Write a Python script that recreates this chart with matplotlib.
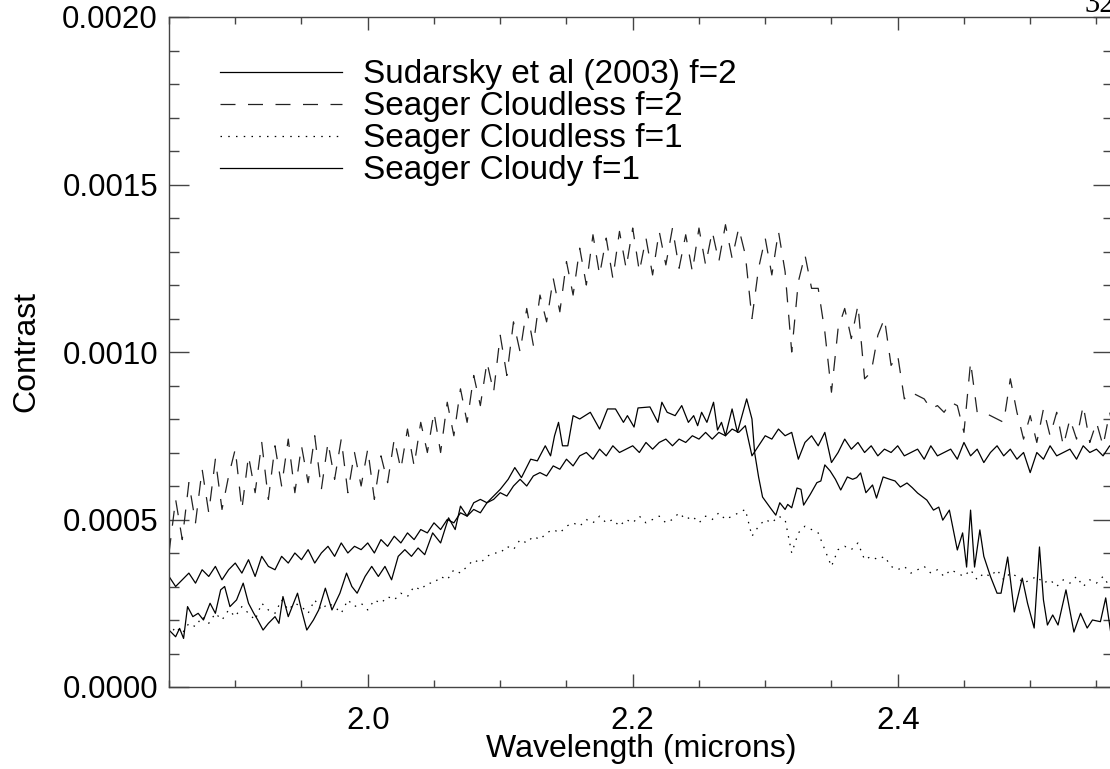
import numpy as np
import matplotlib
matplotlib.use('Agg')
import matplotlib.pyplot as plt
from matplotlib.ticker import MultipleLocator, FormatStrFormatter

plt.rcParams['font.family'] = ['Liberation Sans', 'DejaVu Sans']

# Seager models sampled on a regular wavelength grid (microns)
wave_start = 1.850
wave_step = 0.005
n_seager = 144

# contrast values in units of 1e-4
cloudy_f1 = [
    3.3, 3.0, 3.2, 3.4, 3.1, 3.5, 3.3, 3.6, 3.2, 3.5,
    3.7, 3.4, 3.8, 3.3, 3.9, 3.6, 3.5, 3.9, 3.7, 4.0,
    3.8, 4.1, 3.7, 4.0, 4.2, 3.9, 4.3, 4.0, 4.2, 4.1,
    4.3, 4.0, 4.4, 4.2, 4.5, 4.3, 4.6, 4.4, 4.7, 4.6,
    4.9, 4.7, 5.0, 4.9, 5.2, 5.1, 5.3, 5.2, 5.5, 5.6,
    5.8, 5.7, 6.0, 6.2, 6.0, 6.3, 6.4, 6.3, 6.6, 6.5,
    6.8, 6.6, 6.9, 7.0, 6.8, 7.1, 6.9, 7.2, 7.0, 7.1,
    7.2, 7.0, 7.3, 7.1, 7.3, 7.4, 7.2, 7.4, 7.3, 7.5,
    7.4, 7.6, 7.4, 7.6, 7.5, 7.7, 7.6, 7.8, 6.9, 7.2,
    7.5, 7.4, 7.7, 7.5, 7.6, 6.8, 7.3, 7.5, 7.2, 7.6,
    6.7, 7.0, 7.4, 7.1, 7.3, 7.0, 7.2, 6.9, 7.1, 7.0,
    7.2, 6.9, 7.0, 7.1, 6.8, 7.2, 6.9, 7.0, 7.1, 6.8,
    7.3, 6.9, 7.1, 6.7, 7.0, 7.2, 6.9, 7.1, 6.8, 7.0,
    6.4, 7.0, 6.8, 7.2, 6.9, 7.0, 7.1, 6.8, 7.2, 7.0,
    7.1, 6.9, 7.2, 7.0]

cloudless_f2 = [
    4.0, 5.6, 4.4, 6.1, 4.9, 6.5, 5.2, 6.8, 5.3, 6.3,
    7.1, 5.3, 6.9, 5.8, 7.3, 5.6, 7.2, 6.0, 7.4, 5.8,
    7.2, 6.1, 7.5, 5.9, 7.3, 6.2, 7.4, 5.8, 7.0, 6.0,
    7.1, 5.6, 6.9, 6.1, 7.4, 6.5, 7.7, 6.6, 7.9, 7.0,
    8.2, 7.0, 8.5, 7.5, 8.9, 7.9, 9.3, 8.4, 9.7, 8.8,
    10.5, 9.3, 10.9, 10.0, 11.3, 10.2, 11.7, 10.9, 12.2, 11.2,
    12.7, 11.7, 13.1, 12.0, 13.5, 12.3, 13.4, 12.2, 13.6, 12.5,
    13.7, 12.4, 13.4, 12.3, 13.6, 12.6, 13.7, 12.5, 13.5, 12.4,
    13.7, 12.6, 13.6, 12.7, 13.8, 12.8, 13.7, 12.9, 11.0, 12.5,
    13.4, 12.3, 13.6, 12.4, 10.0, 12.1, 12.9, 11.9, 11.9, 10.6,
    8.8, 10.7, 11.3, 10.4, 11.4, 9.2, 9.4, 10.5, 11.0, 9.6,
    9.9, 8.6, 8.8, 8.7, 8.6, 8.3, 8.4, 8.2, 8.5, 8.4,
    7.6, 9.7, 8.2, 8.2, 8.1, 8.0, 7.9, 9.2, 8.2, 7.4,
    8.1, 7.3, 8.3, 7.5, 8.2, 7.2, 8.0, 7.4, 8.4, 7.3,
    7.9, 7.2, 8.2, 7.3]

cloudless_f1 = [
    1.5, 1.8, 1.6, 1.9, 1.8, 2.1, 1.9, 2.2, 2.0, 2.3,
    2.1, 2.4, 2.2, 2.0, 2.5, 2.3, 2.2, 2.6, 2.3, 2.5,
    2.4, 2.2, 2.6, 2.3, 2.5, 2.4, 2.2, 2.6, 2.4, 2.5,
    2.3, 2.6, 2.5, 2.7, 2.6, 2.8, 2.7, 3.0, 2.9, 3.1,
    3.1, 3.3, 3.2, 3.5, 3.4, 3.6, 3.8, 3.7, 3.9, 4.0,
    4.0, 4.2, 4.1, 4.4, 4.3, 4.5, 4.4, 4.6, 4.7, 4.6,
    4.8, 4.9, 4.8, 5.0, 4.9, 5.1, 4.9, 5.0, 4.8, 5.0,
    4.9, 5.1, 4.9, 5.0, 5.1, 4.9, 5.0, 5.2, 5.0, 5.1,
    4.9, 5.1, 5.0, 5.2, 5.0, 5.1, 5.2, 5.3, 4.5, 4.8,
    5.0, 4.9, 5.1, 5.0, 4.0, 4.6, 4.8, 4.7, 4.6, 4.1,
    3.6, 4.1, 4.2, 4.1, 4.3, 3.8, 3.9, 3.8, 3.9, 3.6,
    3.5, 3.6, 3.4, 3.5, 3.6, 3.4, 3.5, 3.3, 3.5, 3.4,
    3.3, 3.5, 3.2, 3.4, 3.3, 3.5, 3.2, 3.4, 3.3, 3.1,
    3.2, 3.3, 3.1, 3.2, 3.0, 3.2, 3.1, 3.3, 3.0, 3.2,
    3.1, 3.3, 3.0, 3.2]

# Sudarsky et al (2003) model, coarser and irregular sampling
sud_wave = [
    1.850, 1.855, 1.858, 1.861, 1.864, 1.868, 1.872, 1.876, 1.881, 1.885,
    1.889, 1.892, 1.896, 1.901, 1.906, 1.910, 1.914, 1.917, 1.921, 1.925,
    1.930, 1.933, 1.936, 1.940, 1.944, 1.947, 1.950, 1.954, 1.959, 1.963,
    1.968, 1.973, 1.979, 1.984, 1.988, 1.992, 1.998, 2.003, 2.008, 2.013,
    2.018, 2.023, 2.028, 2.033, 2.038, 2.043, 2.049, 2.055, 2.061, 2.066,
    2.070, 2.075, 2.080, 2.085, 2.090, 2.095, 2.100, 2.106, 2.111, 2.116,
    2.123, 2.128, 2.134, 2.138, 2.141, 2.144, 2.147, 2.151, 2.155, 2.160,
    2.168, 2.175, 2.181, 2.187, 2.193, 2.196, 2.201, 2.204, 2.213, 2.219,
    2.222, 2.226, 2.232, 2.237, 2.242, 2.246, 2.249, 2.252, 2.256, 2.261,
    2.264, 2.267, 2.270, 2.275, 2.279, 2.286, 2.290, 2.292, 2.295, 2.298,
    2.304, 2.308, 2.311, 2.315, 2.317, 2.320, 2.324, 2.327, 2.329, 2.334,
    2.339, 2.342, 2.345, 2.349, 2.353, 2.357, 2.362, 2.366, 2.369, 2.372,
    2.376, 2.381, 2.384, 2.389, 2.394, 2.398, 2.402, 2.407, 2.411, 2.415,
    2.422, 2.427, 2.431, 2.434, 2.439, 2.445, 2.449, 2.452, 2.455, 2.458,
    2.462, 2.465, 2.470, 2.475, 2.478, 2.483, 2.488, 2.494, 2.498, 2.503,
    2.507, 2.510, 2.513, 2.517, 2.521, 2.527, 2.533, 2.538, 2.543, 2.547,
    2.553, 2.557, 2.562]

sudarsky_f2 = [
    1.70, 1.50, 1.75, 1.45, 2.40, 2.10, 2.20, 2.00, 2.50, 2.20,
    2.90, 3.00, 2.40, 2.60, 3.10, 2.50, 2.20, 2.00, 1.70, 1.90,
    2.10, 1.90, 2.70, 2.10, 2.50, 2.80, 2.30, 1.70, 2.00, 2.30,
    2.95, 2.30, 2.80, 3.40, 3.00, 2.80, 3.30, 3.60, 3.30, 3.60,
    3.20, 3.90, 4.10, 3.90, 4.15, 3.95, 4.60, 4.30, 5.05, 4.70,
    5.40, 5.10, 5.50, 5.60, 5.50, 5.70, 5.90, 6.20, 6.55, 6.25,
    6.80, 6.75, 7.20, 6.90, 7.50, 7.90, 7.20, 7.20, 8.10, 8.00,
    8.20, 7.70, 8.30, 8.30, 7.90, 8.10, 7.76, 8.33, 8.36, 7.90,
    8.50, 8.20, 8.10, 8.40, 7.90, 8.10, 7.80, 8.20, 7.90, 8.50,
    7.67, 7.90, 7.50, 8.30, 7.60, 8.60, 8.00, 7.00, 6.27, 5.67,
    5.34, 5.13, 5.50, 5.30, 5.45, 5.35, 5.94, 5.90, 5.43, 5.75,
    6.10, 6.15, 6.63, 6.45, 6.20, 5.88, 6.27, 6.20, 6.25, 6.39,
    5.80, 6.03, 5.64, 6.27, 6.20, 6.15, 5.97, 6.09, 5.95, 5.79,
    5.58, 5.28, 5.37, 4.98, 5.28, 4.09, 4.60, 3.58, 5.28, 3.58,
    4.69, 3.90, 3.30, 2.80, 2.80, 3.88, 2.24, 3.25, 2.50, 1.76,
    4.18, 2.60, 1.85, 2.15, 1.85, 2.90, 1.64, 2.20, 1.76, 2.00,
    1.95, 2.66, 1.30]

labels = ['Sudarsky et al (2003) f=2', 'Seager Cloudless f=2',
          'Seager Cloudless f=1', 'Seager Cloudy f=1']

seager_wave = wave_start + wave_step * np.arange(n_seager)
scale = 1e-4

fig = plt.figure(figsize=(11.1, 7.69), dpi=100)
ax = fig.add_axes([169 / 1110, 1 - 687 / 769, 944 / 1110, 670 / 769])

lw = 0.9
h1, = ax.plot(sud_wave, np.array(sudarsky_f2) * scale, color='black', lw=lw)
h2, = ax.plot(seager_wave, np.array(cloudless_f2) * scale, color='#222222',
              lw=lw, dashes=(12, 10))
h3, = ax.plot(seager_wave, np.array(cloudless_f1) * scale, color='black',
              lw=lw, dashes=(1.2, 5))
h4, = ax.plot(seager_wave, np.array(cloudy_f1) * scale, color='black', lw=lw)

ax.set_xlim(1.85, 2.5625)
ax.set_ylim(0, 0.002)

ax.xaxis.set_major_locator(MultipleLocator(0.2))
ax.xaxis.set_minor_locator(MultipleLocator(0.05))
ax.yaxis.set_major_locator(MultipleLocator(0.0005))
ax.yaxis.set_minor_locator(MultipleLocator(0.0001))
ax.xaxis.set_major_formatter(FormatStrFormatter('%.1f'))
ax.yaxis.set_major_formatter(FormatStrFormatter('%.4f'))

ax.tick_params(which='both', direction='in', top=True, right=True,
               color='#444444', width=1.0, labelsize=22.5)
ax.tick_params(axis='x', which='major', length=9.4, pad=14)
ax.tick_params(axis='x', which='minor', length=5)
ax.tick_params(axis='y', which='major', length=14.4, pad=8)
ax.tick_params(axis='y', which='minor', length=7.2)
for sp in ax.spines.values():
    sp.set_color('#444444')
    sp.set_linewidth(1.0)

ax.set_xlabel('Wavelength (microns)', fontsize=23, labelpad=-1.5)
ax.set_ylabel('Contrast', fontsize=23, labelpad=15)

leg = ax.legend([h1, h2, h3, h4], labels, loc='upper left',
                bbox_to_anchor=(0.054, 0.937), frameon=False, fontsize=24,
                handlelength=3.66, handletextpad=0.63, labelspacing=0.03,
                borderaxespad=0, borderpad=0)

fig.text(1085 / 1110, 1 - 12 / 769, '32', family='Liberation Serif',
         fontsize=22, ha='left', va='baseline')

fig.savefig('out.png', dpi=100)
